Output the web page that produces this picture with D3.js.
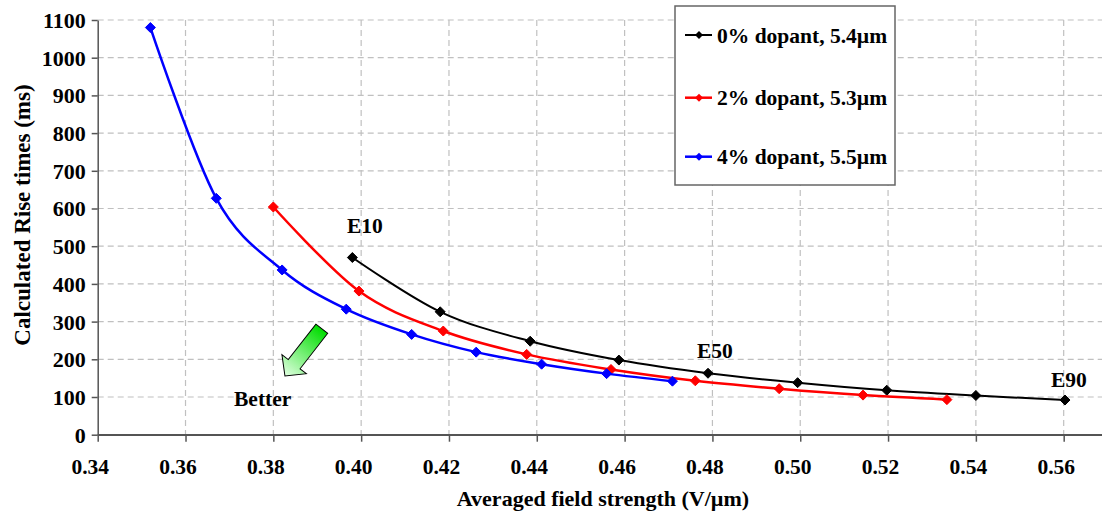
<!DOCTYPE html>
<html>
<head>
<meta charset="utf-8">
<script src="https://cdn.jsdelivr.net/npm/d3@7"></script>
<style>
  html, body { margin: 0; padding: 0; background: #fff; }
  svg { display: block; }
  text { font-family: "Liberation Serif", "Times New Roman", serif; font-weight: bold; fill: #000; }
</style>
</head>
<body>
<svg id="chart" width="1102" height="518"></svg>
<script>
// ---- data ----
const seriesNames = ["0% dopant, 5.4\u00b5m", "2% dopant, 5.3\u00b5m", "4% dopant, 5.5\u00b5m"];
const seriesColors = ["#000000", "#ff0000", "#0000ff"];

const field0 = [0.398, 0.418, 0.4385, 0.4587, 0.479, 0.4994, 0.5197, 0.540, 0.5603];
const rise0  = [470, 326, 248, 198, 163, 138, 118, 104, 92];

const field2 = [0.380, 0.3995, 0.4187, 0.4377, 0.4569, 0.4761, 0.4952, 0.5143, 0.5334];
const rise2  = [604, 381, 275, 213, 173, 143, 122, 105, 93];

const field4 = [0.352, 0.367, 0.382, 0.3966, 0.4115, 0.4262, 0.4411, 0.4559, 0.4709];
const rise4  = [1080, 627, 437, 333, 266, 219, 187, 162, 142];

const xTicks = [0.34, 0.36, 0.38, 0.40, 0.42, 0.44, 0.46, 0.48, 0.50, 0.52, 0.54, 0.56];
const yTicks = [0, 100, 200, 300, 400, 500, 600, 700, 800, 900, 1000, 1100];

const annotations = [
  {label: "E10", x: 0.3979, y: 470},
  {label: "E50", x: 0.479, y: 163},
  {label: "E90", x: 0.5603, y: 92}
];

const xTitle = "Averaged field strength (V/\u00b5m)";
const yTitle = "Calculated Rise times (ms)";
const betterLabel = "Better";

// ---- layout ----
const svg = d3.select("#chart");
const x = d3.scaleLinear().domain([0.34, 0.57]).range([97.7, 1107.6]);
const y = d3.scaleLinear().domain([0, 1100]).range([434.7, 20]);
const fontSize = 21.5;
const FONT = "'Liberation Serif', 'Times New Roman', serif";

// gridlines
const grid = svg.append("g");
grid.selectAll("line.h").data(yTicks.filter(d => d > 0)).join("line")
  .attr("x1", x(0.34)).attr("x2", 1102)
  .attr("y1", d => y(d)).attr("y2", d => y(d))
  .attr("stroke", "#c0c0c0").attr("stroke-width", 1.2).attr("stroke-dasharray", "6,4");
grid.selectAll("line.v").data(xTicks.filter(d => d > 0.34)).join("line")
  .attr("x1", d => x(d)).attr("x2", d => x(d))
  .attr("y1", y(1100)).attr("y2", y(0))
  .attr("stroke", "#c0c0c0").attr("stroke-width", 1.2).attr("stroke-dasharray", "6,4");

// axes
const xAxis = svg.append("g").attr("transform", `translate(0,${y(0)})`)
  .call(d3.axisBottom(x).tickValues(xTicks).tickSize(7).tickSizeOuter(0).tickFormat(d3.format(".2f")));
xAxis.attr("font-family", FONT).attr("font-size", fontSize);
xAxis.select(".domain").attr("stroke", "#555").attr("stroke-width", 1.5);
xAxis.selectAll(".tick line").attr("stroke", "#555").attr("stroke-width", 1.5);
xAxis.selectAll(".tick text").attr("font-size", fontSize).attr("dy", null).attr("y", 39).attr("x", -8)
  .style("font-family", FONT).style("font-weight", "bold").attr("fill", "#000");

const yAxis = svg.append("g").attr("transform", `translate(${x(0.34)},0)`)
  .call(d3.axisLeft(y).tickValues(yTicks).tickSize(6).tickSizeOuter(0).tickFormat(d3.format("d")));
yAxis.attr("font-family", FONT).attr("font-size", 22);
yAxis.select(".domain").attr("stroke", "#555").attr("stroke-width", 1.5);
yAxis.selectAll(".tick line").attr("stroke", "#555").attr("stroke-width", 1.5);
yAxis.selectAll(".tick text").attr("font-size", 22).attr("x", -12).attr("dy", "0.34em")
  .style("font-family", FONT).style("font-weight", "bold").attr("fill", "#000");
// extend x axis line to the right edge
svg.append("line").attr("x1", x(0.34)).attr("x2", 1102).attr("y1", y(0)).attr("y2", y(0))
  .attr("stroke", "#555").attr("stroke-width", 1.5);

// axis titles
svg.append("text").attr("x", 603).attr("y", 506)
  .attr("text-anchor", "middle").attr("font-size", 22).text(xTitle);
svg.append("text").attr("transform", `translate(30,215) rotate(-90)`)
  .attr("text-anchor", "middle").attr("font-size", 23).text(yTitle);

// series
const series = [
  {name: seriesNames[0], color: seriesColors[0], xs: field0, ys: rise0, w: 2},
  {name: seriesNames[1], color: seriesColors[1], xs: field2, ys: rise2, w: 2.5},
  {name: seriesNames[2], color: seriesColors[2], xs: field4, ys: rise4, w: 2.5}
];
const line = d3.line().x(d => x(d[0])).y(d => y(d[1])).curve(d3.curveCardinal.tension(0));
const diamond = (cx, cy, r) => `M${cx},${cy - r}L${cx + r},${cy}L${cx},${cy + r}L${cx - r},${cy}Z`;

series.forEach(s => {
  const pts = s.xs.map((v, i) => [v, s.ys[i]]);
  svg.append("path").datum(pts).attr("d", line)
    .attr("fill", "none").attr("stroke", s.color).attr("stroke-width", s.w);
  svg.append("g").selectAll("path").data(pts).join("path")
    .attr("d", d => diamond(x(d[0]), y(d[1]), 5))
    .attr("fill", s.color).attr("stroke", s.color).attr("stroke-width", 1);
});

// annotations
const annOffsets = {E10: [-5, -25], E50: [-11, -15], E90: [-14, -13]};
svg.append("g").selectAll("text").data(annotations).join("text")
  .attr("x", d => x(d.x) + annOffsets[d.label][0])
  .attr("y", d => y(d.y) + annOffsets[d.label][1])
  .attr("font-size", 21.5).text(d => d.label);

// Better arrow
const defs = svg.append("defs");
const grad = defs.append("linearGradient").attr("id", "arrowGrad")
  .attr("gradientUnits", "userSpaceOnUse").attr("x1", 0).attr("y1", 0).attr("x2", 60).attr("y2", 0);
grad.append("stop").attr("offset", "0%").attr("stop-color", "#00dd00");
grad.append("stop").attr("offset", "100%").attr("stop-color", "#e0ffe0");
const arrowPts = [[0, -7.5], [45, -7.5], [45, -15.5], [60, 0], [45, 15.5], [45, 7.5], [0, 7.5]];
svg.append("polygon")
  .attr("points", arrowPts.map(p => p.join(",")).join(" "))
  .attr("transform", "translate(321.8,328.7) rotate(127.9)")
  .attr("fill", "url(#arrowGrad)").attr("stroke", "#000").attr("stroke-width", 1);
svg.append("text").attr("x", 234).attr("y", 406).attr("font-size", 21.5).text(betterLabel);

// legend
const lg = svg.append("g");
lg.append("rect").attr("x", 675).attr("y", 6).attr("width", 220).attr("height", 179)
  .attr("fill", "#fff").attr("stroke", "#666").attr("stroke-width", 1.5);
const rowY = [35, 97.7, 156.7];
series.forEach((s, i) => {
  lg.append("line").attr("x1", 685).attr("x2", 712).attr("y1", rowY[i]).attr("y2", rowY[i])
    .attr("stroke", s.color).attr("stroke-width", s.w);
  lg.append("path").attr("d", diamond(699, rowY[i], 4)).attr("fill", s.color);
  lg.append("text").attr("x", 717).attr("y", rowY[i]).attr("dy", "0.35em")
    .attr("font-size", 21.5).text(s.name);
});
</script>
</body>
</html>
